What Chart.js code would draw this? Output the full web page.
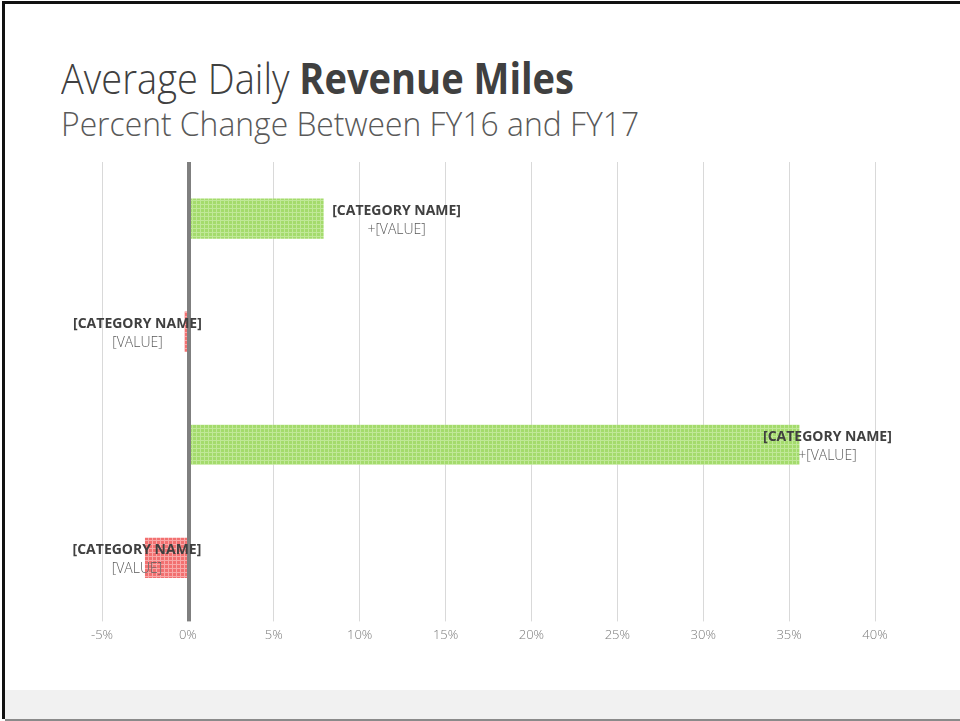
<!DOCTYPE html>
<html>
<head>
<meta charset="utf-8">
<script src="https://cdn.jsdelivr.net/npm/chart.js@4.4.1/dist/chart.umd.min.js"></script>
<style>
  html, body { margin: 0; padding: 0; background: #fff; }
  body { width: 960px; height: 721px; position: relative; overflow: hidden; font-family: 'Open Sans', sans-serif; }
  .frame { position: absolute; left: 2px; top: 1px; right: 0; bottom: 2px; border-top: 3px solid #111; border-left: 3px solid #111; }
  .strip { position: absolute; left: 5px; right: 0; top: 690px; height: 29px; background: #f1f1f1; border-bottom: 2px solid #8a8a8a; }
  .title { position: absolute; left: 61px; top: 48px; font-size: 43px; color: #404040; font-weight: 300; white-space: nowrap; transform: scaleX(0.885); transform-origin: 0 0; }
  .title b { font-weight: 700; }
  .subtitle { position: absolute; left: 61px; top: 101px; font-size: 33px; color: #595959; font-weight: 300; white-space: nowrap; transform: scaleX(0.965); transform-origin: 0 0; }
  .wrap { position: absolute; left: 0; top: 0; width: 960px; height: 690px; }
</style>
</head>
<body>
<div class="frame"></div>
<div class="strip"></div>
<div class="title">Average Daily <b>Revenue Miles</b></div>
<div class="subtitle">Percent Change Between FY16 and FY17</div>
<div class="wrap"><canvas id="miles"></canvas></div>
<script>
// percent change per category, FY16 -> FY17
const categories = ['[CATEGORY NAME]', '[CATEGORY NAME]', '[CATEGORY NAME]', '[CATEGORY NAME]'];
const pctChange = [7.9, -0.2, 35.6, -2.5];
const valueLabels = ['+[VALUE]', '[VALUE]', '+[VALUE]', '[VALUE]'];
const tickValues = [-5, 0, 5, 10, 15, 20, 25, 30, 35, 40];

// label centre, px from the bar end
const labelShift = [73, -47, 28, -8];

function hatch(base, line) {
  let c = document.createElement('canvas');
  c.width = 4; c.height = 4;
  let g = c.getContext('2d');
  g.fillStyle = base;
  g.fillRect(0, 0, 4, 4);
  g.fillStyle = line;
  g.fillRect(0, 0, 4, 1);
  g.fillRect(0, 0, 1, 4);
  return g.createPattern(c, 'repeat');
}

const ctx = document.getElementById('miles');
const greenFill = hatch('#a4db6c', '#c0e898');
const redFill = hatch('#f27070', '#f8a8a8');

const zeroLine = {
  id: 'zeroLine',
  afterDatasetsDraw(chart) {
    let g = chart.ctx, x = chart.scales.x.getPixelForValue(0), a = chart.chartArea;
    g.save();
    g.fillStyle = '#7f7f7f';
    g.fillRect(Math.round(x) - 1, a.top, 4, a.bottom - a.top + 7);
    g.restore();
  }
};

const barLabels = {
  id: 'barLabels',
  afterDraw(chart) {
    let g = chart.ctx;
    let meta = chart.getDatasetMeta(0);
    g.save();
    g.textAlign = 'center';
    g.textBaseline = 'middle';
    meta.data.forEach((bar, i) => {
      let cx = bar.x + labelShift[i];
      g.font = '700 14px "Open Sans"';
      g.fillStyle = '#404040';
      g.fillText(categories[i], cx, bar.y - 8);
      g.font = '300 14px "Open Sans"';
      g.fillStyle = '#595959';
      g.fillText(valueLabels[i], cx, bar.y + 11);
    });
    g.restore();
  }
};

var milesChart = new Chart(ctx, {
  type: 'bar',
  data: {
    labels: categories,
    datasets: [{
      data: pctChange,
      backgroundColor: pctChange.map(v => v < 0 ? redFill : greenFill),
      borderWidth: 0,
      barPercentage: 0.355,
      categoryPercentage: 1
    }]
  },
  options: {
    indexAxis: 'y',
    responsive: true,
    maintainAspectRatio: false,
    animation: false,
    layout: { padding: { left: 102, right: 85, top: 162, bottom: 41 } },
    plugins: { legend: { display: false }, tooltip: { enabled: false } },
    scales: {
      x: {
        min: -5,
        max: 40,
        afterBuildTicks: axis => { axis.ticks = tickValues.map(v => ({ value: v })); },
        border: { display: false },
        grid: {
          color: c => c.tick && c.tick.value === 0 ? 'rgba(0,0,0,0)' : '#d9d9d9',
          lineWidth: 1,
          tickLength: 7,
          drawTicks: true
        },
        ticks: {
          padding: 6,
          color: '#7a7a7a',
          font: { family: 'Open Sans', size: 13, weight: '300' },
          callback: v => v + '%'
        }
      },
      y: { display: false }
    }
  },
  plugins: [zeroLine, barLabels]
});
</script>
</body>
</html>
